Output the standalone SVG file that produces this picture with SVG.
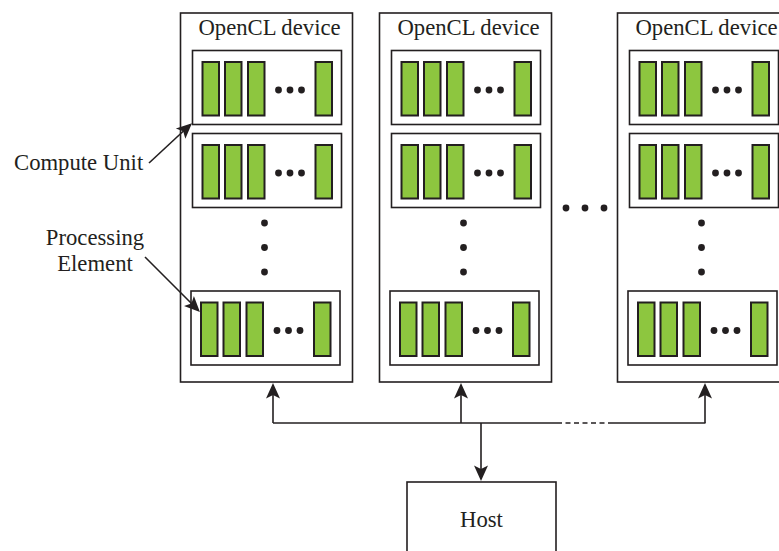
<svg xmlns="http://www.w3.org/2000/svg" xmlns:xlink="http://www.w3.org/1999/xlink" width="779" height="551" viewBox="0 0 779 551">
<style>
.box{fill:#fff;stroke:#231f20;stroke-width:1.6}
.pe{fill:#8dc63f;stroke:#231f20;stroke-width:2}
.dot{fill:#231f20}
.lbl{font-family:"Liberation Serif","Times New Roman",serif;font-size:22.7px;fill:#231f20}
.ln{fill:none;stroke:#231f20;stroke-width:1.6}
</style>
<defs>
<marker id="arr" markerUnits="userSpaceOnUse" markerWidth="20" markerHeight="20" viewBox="-16 -8 20 16" refX="0" refY="0" orient="auto">
<path d="M2,0 L-13.5,-7 L-10,0 L-13.5,7 Z" fill="#231f20"/>
</marker>
<g id="cu">
<rect class="box" x="0" y="0" width="149" height="74"/>
<rect class="pe" x="10" y="11.5" width="16.5" height="53.5"/>
<rect class="pe" x="32.5" y="11.5" width="16.5" height="53.5"/>
<rect class="pe" x="55.5" y="11.5" width="16.5" height="53.5"/>
<rect class="pe" x="123" y="11.5" width="16.5" height="53.5"/>
<circle class="dot" cx="86" cy="39.5" r="3.4"/>
<circle class="dot" cx="97.5" cy="39.5" r="3.4"/>
<circle class="dot" cx="109" cy="39.5" r="3.4"/>
</g>
<g id="dev">
<rect class="box" x="180.5" y="13" width="172" height="369"/>
<text class="lbl" x="269.5" y="35" text-anchor="middle">OpenCL device</text>
<use href="#cu" xlink:href="#cu" x="192.5" y="50.5"/>
<use href="#cu" xlink:href="#cu" x="192.5" y="133.5"/>
<circle class="dot" cx="264.5" cy="223" r="3.4"/>
<circle class="dot" cx="264.5" cy="247.5" r="3.4"/>
<circle class="dot" cx="264.5" cy="272" r="3.4"/>
<use href="#cu" xlink:href="#cu" x="191" y="291"/>
</g>
</defs>
<g id="device1"><use href="#dev" xlink:href="#dev"/></g>
<g id="device2"><use href="#dev" xlink:href="#dev" x="199"/></g>
<g id="device3"><use href="#dev" xlink:href="#dev" x="437"/></g>
<g id="gap-dots">
<circle class="dot" cx="566" cy="208" r="3.4"/>
<circle class="dot" cx="585" cy="208" r="3.4"/>
<circle class="dot" cx="604" cy="208" r="3.4"/>
</g>
<g id="host">
<rect class="box" x="407" y="482" width="149" height="90"/>
<text class="lbl" x="481.5" y="527" text-anchor="middle">Host</text>
</g>
<g id="labels">
<text class="lbl" x="14" y="170">Compute Unit</text>
<text class="lbl" x="95" y="245" text-anchor="middle">Processing</text>
<text class="lbl" x="95" y="271" text-anchor="middle">Element</text>
</g>
<g id="connectors">
<line class="ln" x1="149" y1="163" x2="190.5" y2="124.5" marker-end="url(#arr)"/>
<line class="ln" x1="145" y1="257" x2="198.5" y2="310.5" marker-end="url(#arr)"/>
<path class="ln" d="M273,423 H557"/>
<path class="ln" d="M557,423 H613" stroke-dasharray="5,3.5"/>
<path class="ln" d="M613,423 H705.5"/>
<line class="ln" x1="273" y1="423" x2="273" y2="385" marker-end="url(#arr)"/>
<line class="ln" x1="461" y1="423" x2="461" y2="385" marker-end="url(#arr)"/>
<line class="ln" x1="705" y1="423" x2="705" y2="385" marker-end="url(#arr)"/>
<line class="ln" x1="481" y1="423" x2="481" y2="479" marker-end="url(#arr)"/>
</g>
</svg>
